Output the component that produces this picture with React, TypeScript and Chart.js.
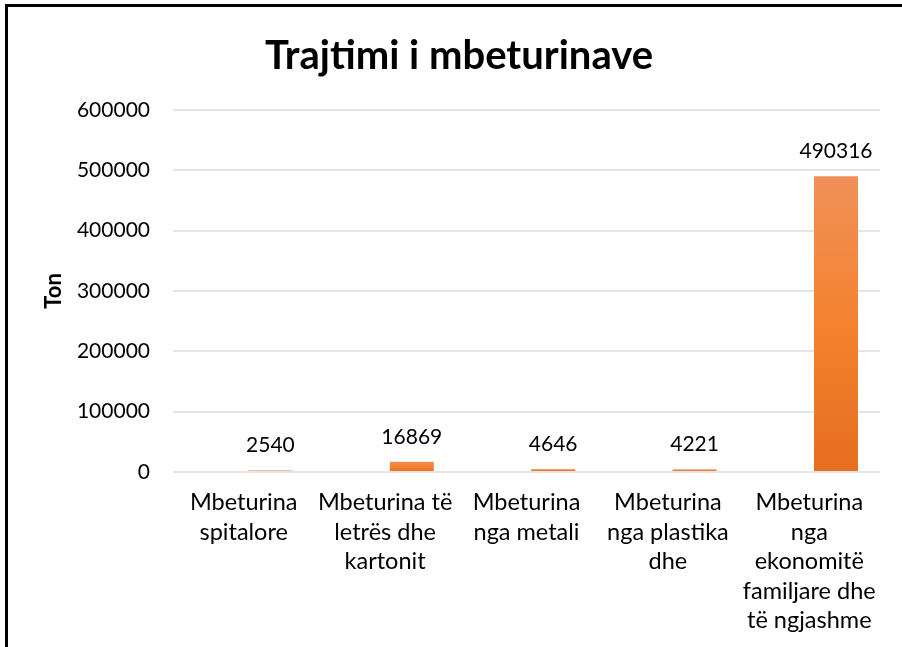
import React, { useEffect, useRef } from "react";
import { Chart, registerables } from "chart.js";

Chart.register(...registerables);

const titleText = "Trajtimi i mbeturinave";
const yAxisTitle = "Ton";
const categories: string[][] = [
  ["Mbeturina", "spitalore"],
  ["Mbeturina të", "letrës dhe", "kartonit"],
  ["Mbeturina", "nga metali"],
  ["Mbeturina", "nga plastika", "dhe"],
  ["Mbeturina", "nga", "ekonomitë", "familjare dhe", "të ngjashme"],
];
const emptySeries: (number | null)[] = [null, null, null, null, null];
const values: number[] = [2540, 16869, 4646, 4221, 490316];
const yMin = 0;
const yMax = 600000;
const yStep = 100000;

const FONT = "Lato, 'Open Sans', sans-serif";

const barGradient = (ctx: any) => {
  const chart = ctx.chart;
  const y = chart.scales && chart.scales.y;
  if (!y || ctx.type !== "data" || ctx.raw == null) return "#F4822E";
  const top = y.getPixelForValue(ctx.raw);
  const bottom = y.getPixelForValue(0);
  if (!isFinite(top) || !isFinite(bottom) || bottom - top < 6) return "#F07A2A";
  const g = chart.ctx.createLinearGradient(0, top, 0, bottom);
  g.addColorStop(0, "#F0905A");
  g.addColorStop(0.5, "#F4822E");
  g.addColorStop(1, "#E56E1F");
  return g;
};

const valueLabels = {
  id: "valueLabels",
  afterDatasetsDraw(chart: any) {
    const c = chart.ctx;
    const meta = chart.getDatasetMeta(1);
    c.save();
    c.font = `21px ${FONT}`;
    c.fillStyle = "#000000";
    c.textAlign = "center";
    c.textBaseline = "alphabetic";
    meta.data.forEach((el: any, i: number) => {
      const v = values[i];
      c.fillText(String(v), el.x, el.y - 18);
    });
    c.restore();
  },
};

export default function App() {
  const ref = useRef<HTMLCanvasElement>(null);
  useEffect(() => {
    document.body.style.overflow = "hidden";
    const chart = new Chart(ref.current as HTMLCanvasElement, {
      type: "bar",
      data: {
        labels: categories,
        datasets: [
          { label: "", data: emptySeries, backgroundColor: "#4472C4" },
          { label: "Ton", data: values, backgroundColor: barGradient },
        ],
      },
      options: {
        animation: false,
        responsive: false,
        maintainAspectRatio: false,
        layout: { padding: { left: 30, right: 26, top: 0, bottom: 0 } },
        datasets: {
          bar: { categoryPercentage: 0.755, barPercentage: 0.824 },
        },
        plugins: {
          legend: { display: false },
          tooltip: { enabled: false },
          title: {
            display: true,
            text: titleText,
            color: "#000000",
            font: { family: FONT, size: 40, weight: "bold", lineHeight: 1.2 },
            padding: { top: 25, bottom: 30 },
          },
        },
        scales: {
          x: {
            grid: { display: false, drawTicks: false },
            border: { display: false },
            ticks: {
              color: "#000000",
              padding: 16,
              maxRotation: 0,
              autoSkip: false,
              font: { family: FONT, size: 23.5, lineHeight: 1.255 },
            },
            afterFit: (s: any) => {
              s.height = 175;
            },
          },
          y: {
            min: yMin,
            max: yMax,
            grid: { color: "#E2E5EA", lineWidth: 2, drawTicks: false },
            border: { display: false },
            ticks: {
              stepSize: yStep,
              color: "#000000",
              padding: 23,
              font: { family: FONT, size: 21 },
              callback: (v: any) => String(v),
            },
            title: {
              display: true,
              text: yAxisTitle,
              color: "#000000",
              font: { family: FONT, size: 22, weight: "bold", lineHeight: 1.2 },
              padding: { top: 3, bottom: 3 },
            },
            afterFit: (s: any) => {
              s.width = 135;
            },
          },
        },
      },
      plugins: [valueLabels],
    });
    return () => chart.destroy();
  }, []);
  return (
    <div
      style={{
        position: "absolute",
        left: 5,
        top: 4,
        width: 920,
        height: 660,
        borderLeft: "3px solid #000",
        borderTop: "3px solid #000",
        background: "#fff",
      }}
    >
      <canvas ref={ref} width={898} height={640} style={{ display: "block" }} />
    </div>
  );
}
